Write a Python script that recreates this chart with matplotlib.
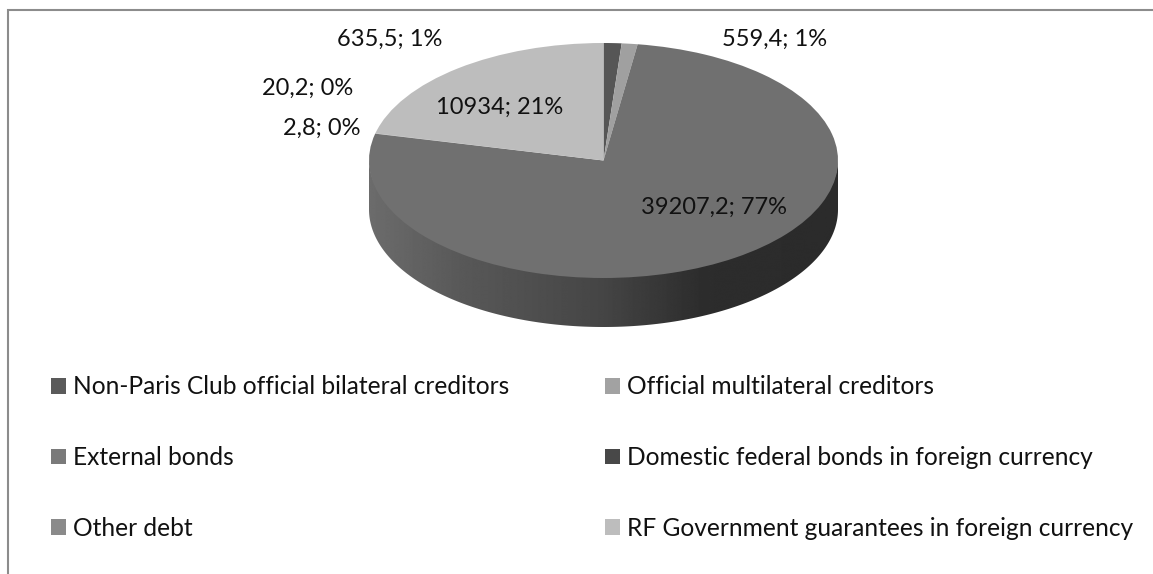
import numpy as np
import matplotlib
matplotlib.use("Agg")
import matplotlib.pyplot as plt
from matplotlib.patches import Patch, Polygon
from matplotlib.lines import Line2D

categories = ["Non-Paris Club official bilateral creditors", "Official multilateral creditors",
              "External bonds", "Domestic federal bonds in foreign currency",
              "Other debt", "RF Government guarantees in foreign currency"]
values = [635.5, 559.4, 39207.2, 2.8, 20.2, 10934.0]
value_labels = ["635,5", "559,4", "39207,2", "2,8", "20,2", "10934"]
percent_labels = ["1%", "1%", "77%", "0%", "0%", "21%"]
pie_colors = ["#565656", "#a0a0a0", "#707070", "#484848", "#878787", "#bdbdbd"]
legend_colors = ["#5a5a5a", "#a2a2a2", "#7a7a7a", "#484848", "#8a8a8a", "#bdbdbd"]
side_x = [-1.0, -0.6, 0.0, 0.42, 1.0]
side_grey = [0x6c, 0x58, 0x45, 0x2d, 0x2b]

W, H = 1153, 574
plt.rcParams["font.family"] = ["Lato", "DejaVu Sans"]
fig = plt.figure(figsize=(W / 100, H / 100), dpi=100, facecolor="white")

def px(x, y):
    return x / W, 1 - y / H

# chart frame: only top and left edges are visible in the crop
fig.add_artist(Line2D([8 / W, 8 / W, 1], [0, 1 - 10 / H, 1 - 10 / H], color="#8c8c8c", lw=1.5,
                      solid_joinstyle="miter"))

# elliptical top face spans these pixels; axes extend down to include the rim
cx, cy, rx, ry, depth = 603.5, 160.5, 234.5, 117.5, 49
ax = fig.add_axes([(cx - rx) / W, 1 - (cy + ry + depth) / H, 2 * rx / W, (2 * ry + depth) / H])
wedges, _ = ax.pie(values, colors=pie_colors, startangle=90, counterclock=False, radius=1,
                   wedgeprops={"linewidth": 0})
for w in wedges:
    w.set_zorder(3)

# extruded rim of the pie: a horizontal grey ramp clipped to the rim's outline
d = depth / ry
ramp_x = np.linspace(-1, 1, 480)
ramp = np.interp(ramp_x, side_x, side_grey)[None, :]
im = ax.imshow(ramp, cmap="gray", vmin=0, vmax=255, extent=(-1, 1, -1 - d, 0.02),
               aspect="auto", zorder=2, interpolation="bilinear")
th = np.linspace(np.pi, 2 * np.pi, 240)
outline = np.r_[np.c_[np.cos(th), np.sin(th) - d], np.c_[np.cos(th[::-1]), np.sin(th[::-1]) + 0.02]]
clip = Polygon(outline, closed=True, transform=ax.transData, fc="none", ec="none")
ax.add_patch(clip)
im.set_clip_path(clip)
ax.set_aspect("auto")
ax.set_xlim(-1, 1)
ax.set_ylim(-1 - d, 1)
ax.patch.set_visible(False)
ax.set_axis_off()

# data labels
label_pos = [(390, 39), (775, 39), (714, 207), (322, 128), (308, 88), (499.5, 107)]
for (x, y), v, p in zip(label_pos, value_labels, percent_labels):
    fig.text(*px(x, y), f"{v}; {p}", ha="center", va="center", fontsize=17, color="#111111")

# legend, filled column by column so that rows read as in the reference
order = [0, 2, 4, 1, 3, 5]
handles = [Patch(facecolor=legend_colors[i], edgecolor="none", label=categories[i]) for i in order]
fs = 17.65
fpx = fs * 100 / 72
fig.legend(handles=handles, ncols=2, loc="upper left", bbox_to_anchor=px(51, 375.5),
           bbox_transform=fig.transFigure, frameon=False, fontsize=fs, borderpad=0, borderaxespad=0,
           handlelength=15 / fpx, handleheight=15 / fpx, handletextpad=7 / fpx,
           labelspacing=1.94, columnspacing=3.9, labelcolor="#111111")

fig.savefig("out.png", dpi=100, facecolor="white")
